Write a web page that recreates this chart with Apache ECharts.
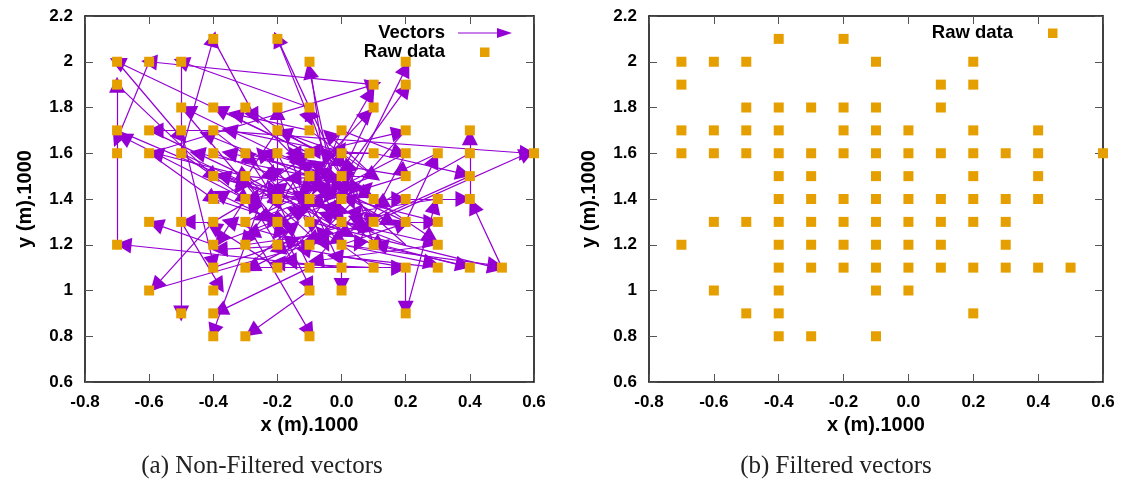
<!DOCTYPE html>
<html>
<head>
<meta charset="utf-8">
<script src="https://cdn.jsdelivr.net/npm/echarts@6/dist/echarts.min.js"></script>
<style>
html,body{margin:0;padding:0;background:#fff;}
#chart{width:1123px;height:481px;}
</style>
</head>
<body>
<div id="chart"></div>
<script>
// Raw data points [x, y]
const rawData = [
  [-0.4,2.1],[-0.2,2.1],
  [-0.7,2.0],[-0.6,2.0],[-0.5,2.0],[-0.1,2.0],[0.2,2.0],
  [-0.7,1.9],[0.1,1.9],[0.2,1.9],
  [-0.5,1.8],[-0.4,1.8],[-0.3,1.8],[-0.2,1.8],[-0.1,1.8],[0.1,1.8],
  [-0.7,1.7],[-0.6,1.7],[-0.5,1.7],[-0.4,1.7],[-0.2,1.7],[-0.1,1.7],[0.0,1.7],[0.2,1.7],[0.4,1.7],
  [-0.7,1.6],[-0.6,1.6],[-0.5,1.6],[-0.4,1.6],[-0.3,1.6],[-0.2,1.6],[-0.1,1.6],[0.0,1.6],[0.1,1.6],[0.2,1.6],[0.3,1.6],[0.4,1.6],[0.6,1.6],
  [-0.4,1.5],[-0.3,1.5],[-0.1,1.5],[0.0,1.5],[0.2,1.5],[0.4,1.5],
  [-0.4,1.4],[-0.3,1.4],[-0.2,1.4],[-0.1,1.4],[0.0,1.4],[0.1,1.4],[0.2,1.4],[0.3,1.4],[0.4,1.4],
  [-0.6,1.3],[-0.5,1.3],[-0.4,1.3],[-0.3,1.3],[-0.2,1.3],[-0.1,1.3],[0.0,1.3],[0.1,1.3],[0.2,1.3],[0.3,1.3],
  [-0.7,1.2],[-0.4,1.2],[-0.3,1.2],[-0.2,1.2],[-0.1,1.2],[0.0,1.2],[0.1,1.2],[0.3,1.2],
  [-0.4,1.1],[-0.3,1.1],[-0.2,1.1],[-0.1,1.1],[0.0,1.1],[0.1,1.1],[0.2,1.1],[0.3,1.1],[0.4,1.1],[0.5,1.1],
  [-0.6,1.0],[-0.4,1.0],[-0.1,1.0],[0.0,1.0],
  [-0.5,0.9],[-0.4,0.9],[0.2,0.9],
  [-0.4,0.8],[-0.3,0.8],[-0.1,0.8]
];

// Vectors [x0, y0, x1, y1] (tail -> head)
const vectors = [
  [-0.7,1.2,-0.7,1.9],[-0.1,1.6,-0.7,2.0],[0.1,1.9,-0.6,2.0],[-0.1,1.8,-0.5,2.0],
  [-0.5,2.0,-0.5,0.9],[-0.5,1.6,-0.4,2.1],[0.0,1.5,-0.2,2.1],[-0.4,2.1,-0.27,1.76],
  [-0.2,2.1,-0.1,1.75],[0.0,1.3,-0.1,1.96],[0.0,1.4,0.2,1.97],[-0.1,1.3,0.2,1.88],
  [-0.1,1.4,0.09,1.86],[-0.1,1.5,0.08,1.77],[-0.6,1.6,0.1,1.9],[0.4,1.4,0.4,1.67],
  [0.5,1.1,0.41,1.37],[-0.4,1.7,0.58,1.6],[0.1,1.3,0.58,1.6],[0.1,1.6,0.38,1.51],
  [0.2,1.3,0.29,1.57],[-0.1,1.6,0.18,1.69],[0.0,1.7,0.18,1.6],[-0.1,1.3,0.48,1.1],
  [0.0,1.2,0.48,1.11],[0.1,1.2,0.38,1.11],[0.2,1.1,0.2,0.92],[0.0,1.1,0.18,1.1],
  [0.1,1.4,0.18,1.4],[0.2,1.4,0.38,1.4],[0.2,1.3,0.28,1.3],[0.0,1.2,0.19,1.29],
  [0.0,1.3,0.28,1.21],[0.2,0.9,0.29,1.37],[0.0,1.2,0.28,1.12],[0.1,1.4,0.28,1.23],
  [0.0,1.1,-0.68,1.2],[-0.4,1.2,-0.58,1.29],[-0.4,1.3,-0.48,1.3],[-0.4,1.3,-0.58,1.02],
  [-0.6,1.0,-0.1,1.2],[-0.5,1.7,-0.4,1.12],[-0.5,1.3,-0.38,1.02],[-0.1,1.1,-0.38,0.91],
  [-0.3,1.2,-0.4,0.82],[-0.1,1.0,-0.28,0.82],[-0.3,1.3,-0.1,0.82],[-0.2,1.3,-0.1,1.02],
  [0.0,1.2,0.0,1.02],[-0.3,1.1,0.18,1.1],
  [-0.7,1.9,-0.4,1.5],[-0.4,1.7,-0.58,1.7],[-0.3,1.5,-0.58,1.6],[-0.2,1.6,-0.48,1.79],
  [-0.1,1.6,-0.38,1.79],[-0.7,2.0,-0.5,1.67],[-0.1,1.5,-0.42,1.68],[-0.1,1.5,-0.45,1.6],
  [-0.3,1.4,-0.68,1.67],[-0.6,2.0,-0.7,1.66],[-0.6,1.7,-0.3,1.5],[-0.7,1.7,-0.2,1.4],
  [-0.5,1.6,-0.3,1.4],[-0.6,1.6,-0.4,1.4],[-0.5,1.8,-0.2,1.3],
  [-0.2,1.4,-0.2,1.78],[0.0,1.4,-0.1,1.78],[-0.1,1.7,-0.33,1.77],[0.0,1.6,-0.35,1.7],
  [0.0,1.6,-0.18,1.69],[0.1,1.5,-0.04,1.68],[0.0,1.5,-0.35,1.6],[-0.4,1.7,-0.28,1.57],
  [0.0,1.5,-0.23,1.6],[0.1,1.6,-0.15,1.6],[-0.3,1.8,-0.13,1.56],[0.1,1.6,-0.09,1.61],
  [-0.2,1.7,0.0,1.56],[-0.1,1.4,-0.37,1.5],[-0.5,1.6,-0.3,1.47],[0.0,1.5,-0.15,1.49],
  [0.1,1.5,-0.09,1.5],[-0.3,1.6,-0.02,1.49],
  [-0.2,1.2,-0.05,1.45],[-0.3,1.3,-0.12,1.42],[0.1,1.2,-0.15,1.35],[0.2,1.2,-0.05,1.33],
  [-0.4,1.4,-0.18,1.3],[0.2,1.5,-0.08,1.38],[-0.2,1.1,-0.03,1.37],[0.1,1.1,-0.1,1.3],
  [-0.3,1.2,-0.05,1.25],[0.2,1.4,-0.02,1.22],[-0.1,1.1,0.05,1.35],[0.0,1.6,0.05,1.3],
  [-0.3,1.5,0.02,1.25],[-0.4,1.5,-0.1,1.38],[0.1,1.3,-0.2,1.45],[-0.3,1.4,-0.03,1.42],
  [0.3,1.4,-0.02,1.33],[0.3,1.3,0.02,1.4],[-0.2,1.8,-0.12,1.4],[-0.1,2.0,-0.05,1.5],
  [0.2,1.6,-0.05,1.42],[-0.4,1.6,-0.1,1.45],[-0.3,1.1,-0.15,1.28],[-0.2,1.2,-0.28,1.38],
  [0.0,1.4,-0.28,1.25],[-0.1,1.2,-0.35,1.3],[0.1,1.3,-0.2,1.18],[0.3,1.2,-0.08,1.13],
  [0.2,1.1,-0.12,1.18],[-0.4,1.1,-0.15,1.22],[-0.4,1.2,-0.12,1.35],[-0.2,1.4,0.08,1.27],
  [-0.1,1.4,0.12,1.2],[-0.3,1.5,0.05,1.45],[0.2,1.7,-0.02,1.35],[-0.2,1.6,0.08,1.42],
  [-0.1,1.7,0.1,1.5],[0.4,1.6,0.12,1.38],[0.3,1.6,0.18,1.52],[0.4,1.5,0.05,1.28],
  [-0.3,1.8,0.02,1.52],[0.1,1.8,-0.02,1.45],[-0.1,1.5,0.15,1.3],[-0.2,1.3,-0.38,1.42],
  [-0.1,1.2,-0.38,1.18],[0.0,1.3,-0.28,1.1],[-0.2,1.1,-0.4,1.28],[0.1,1.1,-0.2,1.12],
  [0.4,1.1,0.12,1.2],[0.3,1.1,-0.02,1.15],[-0.3,1.6,-0.2,1.38],
  [-0.3,1.4,-0.12,1.58],[-0.2,1.3,0.02,1.5],[0.1,1.4,-0.08,1.55],[0.0,1.7,-0.08,1.45],
  [-0.4,1.4,-0.2,1.52],[0.2,1.2,0.0,1.45],[-0.1,1.1,-0.22,1.45],[0.1,1.5,-0.25,1.32],
  [-0.2,1.7,-0.32,1.45],[-0.3,1.2,-0.22,1.52],[0.0,1.1,-0.1,1.4],[-0.1,1.3,-0.3,1.6],
  [0.2,1.6,0.05,1.2],[-0.4,1.5,0.0,1.35],[0.1,1.2,0.02,1.55],[-0.2,1.2,0.1,1.32],
  [-0.3,1.4,-0.38,1.22],[0.0,1.5,-0.28,1.4],[-0.1,1.6,-0.22,1.3],[0.2,1.5,-0.15,1.58],
  [-0.2,1.6,-0.05,1.2],[0.0,1.2,-0.25,1.6],[-0.1,1.4,0.0,1.62],[-0.4,1.3,-0.1,1.55],
  [0.1,1.3,-0.05,1.6],[-0.3,1.5,-0.08,1.22],[0.0,1.6,-0.2,1.25],[-0.3,1.5,-0.15,1.12],
  [0.2,1.3,-0.1,1.5],[-0.1,1.2,0.08,1.45],[-0.2,1.4,-0.3,1.22],[0.0,1.3,-0.15,1.6]
];

const xTitle = 'x (m).1000';
const yTitle = 'y (m).1000';
const captions = ['(a) Non-Filtered vectors', '(b) Filtered vectors'];
const legendVectors = 'Vectors';
const legendRaw = 'Raw data';

const PURPLE = '#9400d3';
const ORANGE = '#e69f00';
const FONT = '"Liberation Sans", Arial, sans-serif';

const chart = echarts.init(document.getElementById('chart'), null, {renderer: 'canvas'});

const grids = [
  {left: 85, top: 16, width: 449, height: 366, outerBoundsMode: 'none'},
  {left: 649, top: 16, width: 454, height: 366, outerBoundsMode: 'none'}
];

function xAx(gi, pos) {
  const main = pos === 'bottom';
  return {
    type: 'value', gridIndex: gi, position: pos, min: -0.8, max: 0.6, interval: 0.2,
    name: main ? xTitle : '', nameLocation: 'middle', nameGap: 32,
    nameTextStyle: {fontFamily: FONT, fontWeight: 'bold', fontSize: 20, color: '#000'},
    axisLine: {show: true, onZero: false, lineStyle: {color: '#000', width: 1.5}},
    axisTick: {show: true, inside: true, length: 8, lineStyle: {color: '#555', width: 1}},
    axisLabel: {show: main, margin: 12, fontFamily: FONT, fontWeight: 'bold', fontSize: 17, color: '#000',
      formatter: v => v.toFixed(1)},
    splitLine: {show: false}
  };
}
function yAx(gi, pos) {
  const main = pos === 'left';
  return {
    type: 'value', gridIndex: gi, position: pos, min: 0.6, max: 2.2, interval: 0.2,
    name: main ? yTitle : '', nameLocation: 'middle', nameGap: 50, nameRotate: 90,
    nameTextStyle: {fontFamily: FONT, fontWeight: 'bold', fontSize: 20, color: '#000'},
    axisLine: {show: true, onZero: false, lineStyle: {color: '#000', width: 1.5}},
    axisTick: {show: true, inside: true, length: 8, lineStyle: {color: '#555', width: 1}},
    axisLabel: {show: main, margin: 12, fontFamily: FONT, fontWeight: 'bold', fontSize: 17, color: '#000',
      formatter: v => String(parseFloat(v.toFixed(1)))},
    splitLine: {show: false}
  };
}

const legendTxt = {fontFamily: FONT, fontWeight: 'bold', fontSize: 18.5, fill: '#000', align: 'right', verticalAlign: 'middle'};
const captionFont = '"Liberation Serif", "Times New Roman", serif';

const option = {
  animation: false,
  backgroundColor: '#fff',
  grid: grids,
  xAxis: [xAx(0,'bottom'), xAx(0,'top'), xAx(1,'bottom'), xAx(1,'top')],
  yAxis: [yAx(0,'left'), yAx(0,'right'), yAx(1,'left'), yAx(1,'right')],
  series: [
    {
      type: 'lines', coordinateSystem: 'cartesian2d', xAxisIndex: 0, yAxisIndex: 0,
      data: vectors.map(v => ({coords: [[v[0], v[1]], [v[2], v[3]]]})),
      symbol: ['none', 'triangle'], symbolSize: [12, 16],
      lineStyle: {color: PURPLE, width: 1.2, opacity: 1, curveness: 0},
      silent: true, z: 2
    },
    {
      type: 'scatter', xAxisIndex: 0, yAxisIndex: 0, data: rawData,
      symbol: 'rect', symbolSize: 10, itemStyle: {color: ORANGE, opacity: 1}, clip: false, silent: true, z: 3
    },
    {
      type: 'scatter', xAxisIndex: 2, yAxisIndex: 2, data: rawData,
      symbol: 'rect', symbolSize: 10, itemStyle: {color: ORANGE, opacity: 1}, clip: false, silent: true, z: 3
    }
  ],
  graphic: [
    {type: 'text', x: 445, y: 33, style: Object.assign({text: legendVectors}, legendTxt)},
    {type: 'line', shape: {x1: 458, y1: 33, x2: 500, y2: 33}, style: {stroke: PURPLE, lineWidth: 1.2}},
    {type: 'polygon', shape: {points: [[512, 33], [497, 28], [497, 38]]}, style: {fill: PURPLE}},
    {type: 'text', x: 445, y: 52, style: Object.assign({text: legendRaw}, legendTxt)},
    {type: 'rect', shape: {x: 480, y: 47.5, width: 9.5, height: 9.5}, style: {fill: ORANGE}},
    {type: 'text', x: 1013, y: 33, style: Object.assign({text: legendRaw}, legendTxt)},
    {type: 'rect', shape: {x: 1048, y: 28.5, width: 9.5, height: 9.5}, style: {fill: ORANGE}},
    {type: 'text', x: 262, y: 466, style: {text: captions[0], fontFamily: captionFont, fontSize: 25, fill: '#222', align: 'center', verticalAlign: 'middle'}},
    {type: 'text', x: 836, y: 466, style: {text: captions[1], fontFamily: captionFont, fontSize: 25, fill: '#222', align: 'center', verticalAlign: 'middle'}}
  ]
};
chart.setOption(option);
</script>
</body>
</html>
